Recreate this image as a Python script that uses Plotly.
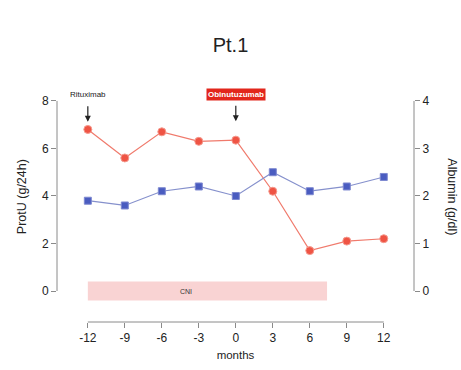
import plotly.graph_objects as go

months = [-12, -9, -6, -3, 0, 3, 6, 9, 12]
protu = [6.8, 5.6, 6.7, 6.3, 6.35, 4.2, 1.7, 2.1, 2.2]
albumin = [1.9, 1.8, 2.1, 2.2, 2.0, 2.5, 2.1, 2.2, 2.4]
x_ticks = [-12, -9, -6, -3, 0, 3, 6, 9, 12]
left_ticks = [0, 2, 4, 6, 8]
right_ticks = [0, 1, 2, 3, 4]
cni_start, cni_end = -12, 7.4

RED = "#ef5444"
BLUE = "#4a5cc0"
AX = "#8a8a8a"
FONT = "Liberation Sans, Arial, sans-serif"

fig = go.Figure()
fig.add_trace(go.Scatter(x=months, y=protu, mode="lines+markers", yaxis="y",
                         line=dict(color="#f07a6c", width=1.2),
                         marker=dict(symbol="circle", size=8, color=RED,
                                     line=dict(color="#f59a8e", width=1)),
                         showlegend=False, cliponaxis=False))
fig.add_trace(go.Scatter(x=months, y=albumin, mode="lines+markers", yaxis="y2",
                         line=dict(color="#8590cc", width=1.2),
                         marker=dict(symbol="square", size=7, color=BLUE,
                                     line=dict(color="#7d88d0", width=1)),
                         showlegend=False, cliponaxis=False))

shapes = [
    dict(type="rect", xref="x", yref="y", x0=cni_start, x1=cni_end, y0=-0.4, y1=0.4,
         fillcolor="#f9d3d3", line=dict(width=0), layer="below"),
    dict(type="line", xref="paper", yref="y", x0=0, x1=0, y0=0, y1=8,
         line=dict(color=AX, width=1)),
    dict(type="line", xref="paper", yref="y2", x0=1, x1=1, y0=0, y1=4,
         line=dict(color=AX, width=1)),
    dict(type="line", xref="x", yref="paper", x0=-12, x1=12, y0=0, y1=0,
         line=dict(color=AX, width=1)),
]

annotations = [
    dict(text="Rituximab", xref="x", yref="paper", x=-12, y=1.031, showarrow=False,
         font=dict(size=8, color="#222", family=FONT)),
    dict(text="", xref="x", yref="y", x=-12, y=7.12, ax=0, ay=-17, showarrow=True,
         arrowhead=2, arrowsize=1, arrowwidth=1.2, arrowcolor="#222"),
    dict(text="<b>Obinutuzumab</b>", xref="x", yref="paper", x=0, y=1.031, showarrow=False,
         font=dict(size=8, color="white", family=FONT), bgcolor="#e2261c",
         borderpad=1),
    dict(text="", xref="x", yref="y", x=0, y=7.15, ax=0, ay=-17, showarrow=True,
         arrowhead=2, arrowsize=1, arrowwidth=1.2, arrowcolor="#222"),
    dict(text="CNI", xref="x", yref="y", x=-4, y=0, showarrow=False,
         font=dict(size=7, color="#333", family=FONT)),
    dict(text="ProtU (g/24h)", xref="paper", yref="paper", x=-0.098, y=0.55,
         xanchor="center", yanchor="middle",
         textangle=-90, showarrow=False, font=dict(size=12.5, color="#222", family=FONT)),
    dict(text="Albumin (g/dl)", xref="paper", yref="paper", x=1.106, y=0.55,
         xanchor="center", yanchor="middle",
         textangle=90, showarrow=False, font=dict(size=12.5, color="#222", family=FONT)),
]

fig.update_layout(
    width=461, height=370,
    margin=dict(l=57, r=47, t=95, b=48),
    paper_bgcolor="white", plot_bgcolor="white",
    font=dict(family=FONT, color="#222"),
    title=dict(text="Pt.1", x=0.5, xanchor="center", y=0.878, yanchor="middle",
               font=dict(size=20, color="#222", family=FONT)),
    xaxis=dict(range=[-14.5, 14.45], tickvals=x_ticks, ticktext=[str(v) for v in x_ticks],
               showgrid=False, zeroline=False, showline=False,
               ticks="outside", ticklen=5, tickcolor=AX,
               tickfont=dict(size=12, color="#222"),
               title=dict(text="months", font=dict(size=11.5, color="#222"), standoff=6)),
    yaxis=dict(range=[-1.305, 8.25], tickvals=left_ticks, showgrid=False, zeroline=False,
               showline=False, ticks="outside", ticklen=5, tickcolor=AX,
               tickfont=dict(size=12, color="#222")),
    yaxis2=dict(range=[-0.6525, 4.125], tickvals=right_ticks, overlaying="y", side="right",
                showgrid=False, zeroline=False, showline=False, ticks="outside", ticklen=5,
                tickcolor=AX, tickfont=dict(size=12, color="#222")),
    shapes=shapes,
    annotations=annotations,
)

fig.write_html("out.html")
